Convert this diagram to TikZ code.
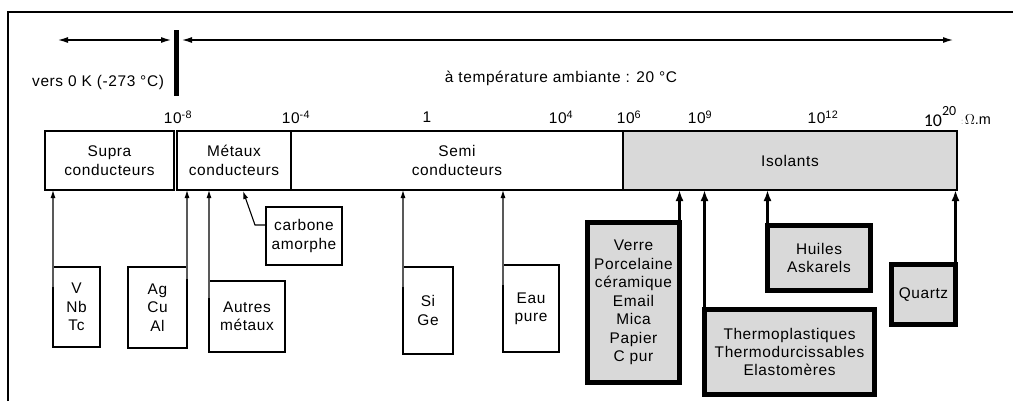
\documentclass[tikz,border=0pt]{standalone}
\usepackage{fontspec}
\setmainfont[LetterSpace=4]{Liberation Sans}
\newfontfamily\calib{Carlito}
\newfontfamily\plainsans{Liberation Sans}
\usetikzlibrary{arrows.meta}
\definecolor{isogray}{RGB}{217,217,217}
\begin{document}
\begin{tikzpicture}[x=1bp,y=-1bp,
  font=\fontsize{15.5}{18.5}\selectfont,
  cell/.style={draw, line width=1.3bp, align=center, inner sep=0pt, outer sep=0pt},
  box/.style={draw, line width=1.2bp, align=center, inner sep=0pt, outer sep=0pt},
  tbox/.style={draw, line width=5bp, fill=isogray, align=center, inner sep=0pt, outer sep=0pt},
  lab/.style={inner sep=0pt},
  toparr/.style={line width=1.2bp, {Latex[length=10bp,width=6bp]}-{Latex[length=10bp,width=6bp]}},
  thinarr/.style={line width=1.1bp, draw=black!65, -{Latex[length=8bp,width=5bp,fill=black,color=black]}},
  thickarr/.style={line width=3bp, -{Latex[length=11bp,width=8bp]}}
]
\useasboundingbox (0,0) rectangle (1013,401);
% frame
\draw[line width=2bp] (8,401) -- (8,12) -- (1013,12);

% temperature arrows
\node[fill=black, minimum width=5bp, minimum height=66bp, inner sep=0pt, outer sep=0pt] (bar) at (176.5,63) {};
\coordinate (l1) at (58,40);
\coordinate (l2) at (171,40);
\coordinate (r1) at (182,40);
\coordinate (r2) at (953,40);
\draw[toparr] (l1) -- (l2);
\draw[toparr] (r1) -- (r2);
\node[lab, anchor=west] (t0) at (32,82) {vers 0 K (-273 °C)};
\node[lab] (t20) at (561,78) {à température ambiante : 20 °C};

% scale labels
\node[lab] (s1) at (178,117) {10\textsuperscript{-8}};
\node[lab] (s2) at (296,117) {10\textsuperscript{-4}};
\node[lab] (s3) at (427,117) {1};
\node[lab] (s4) at (561,117) {10\textsuperscript{4}};
\node[lab] (s5) at (629,117) {10\textsuperscript{6}};
\node[lab] (s6) at (700,117) {10\textsuperscript{9}};
\node[lab] (s7) at (823,117) {10\textsuperscript{12}};
\node[lab, anchor=base] (s8) at (940,126) {\calib\fontsize{18}{20}\selectfont 10\raisebox{11bp}{\fontsize{14}{15}\selectfont 20}};
\node[lab, anchor=base west] (s9) at (961,124) {\plainsans\color{black!45}\fontsize{8}{9}\selectfont :\,\color{black}\fontsize{14.5}{16}\selectfont $\Omega$.m};

% main bar
\node[cell, minimum width=129bp, minimum height=59bp] (supra) at (109.5,160.5) {Supra\\conducteurs};
\node[cell, minimum width=114bp, minimum height=59bp] (metaux) at (234,160.5) {Métaux\\conducteurs};
\node[cell, minimum width=332bp, minimum height=59bp] (semi) at (457,160.5) {Semi\\conducteurs};
\node[cell, fill=isogray, minimum width=334bp, minimum height=59bp] (isol) at (790,160.5) {Isolants};
\draw[line width=2.2bp] (semi.north west) -- (semi.south west);

% lower boxes
\node[box, minimum width=47bp, minimum height=80bp] (vnb) at (76.5,307) {V\\Nb\\Tc};
\node[box, minimum width=59bp, minimum height=81bp] (agcu) at (157.5,307.5) {Ag\\Cu\\Al};
\node[box, minimum width=76bp, minimum height=71bp] (autres) at (247,316.5) {Autres\\métaux};
\node[box, minimum width=76bp, minimum height=58bp] (carb) at (304,236) {carbone\\amorphe};
\node[box, minimum width=50bp, minimum height=87bp] (sige) at (428,310.5) {Si\\Ge};
\node[box, minimum width=56bp, minimum height=87bp] (eau) at (531,308.5) {Eau\\pure};

\node[tbox, minimum width=92bp, minimum height=160bp] (verre) at (633.5,302.5) {Verre\\Porcelaine\\céramique\\Email\\Mica\\Papier\\C pur};
\node[tbox, minimum width=170bp, minimum height=85bp] (thermo) at (789.5,352) {Thermoplastiques\\Thermodurcissables\\Elastomères};
\node[tbox, minimum width=103bp, minimum height=65bp] (huiles) at (819,258) {Huiles\\Askarels};
\node[tbox, minimum width=64bp, minimum height=60bp] (quartz) at (923.5,294.5) {Quartz};

% connectors
\draw[thinarr] ([yshift=-20bp]vnb.north west) -- (vnb.north west |- supra.south);
\draw[thinarr] ([yshift=-12bp]agcu.north east) -- (agcu.north east |- supra.south);
\draw[thinarr] ([yshift=-17bp]autres.north west) -- (autres.north west |- metaux.south);
\coordinate (carbbend) at (255,225);
\coordinate (carbtip) at (243,191);
\draw[line width=1.1bp, -{Latex[length=8bp,width=5bp]}] ([yshift=11bp]carb.west) -- (carbbend) -- (carbtip);
\draw[thinarr] ([yshift=-20bp]sige.north west) -- (sige.north west |- semi.south);
\draw[thinarr] ([yshift=-20bp]eau.north west) -- (eau.north west |- semi.south);
\draw[thickarr] (verre.north east) -- (verre.north east |- isol.south);
\draw[thickarr] (thermo.north west) -- (thermo.north west |- isol.south);
\draw[thickarr] (huiles.north west) -- (huiles.north west |- isol.south);
\draw[thickarr] (quartz.north east) -- (quartz.north east |- isol.south);
\end{tikzpicture}
\end{document}
